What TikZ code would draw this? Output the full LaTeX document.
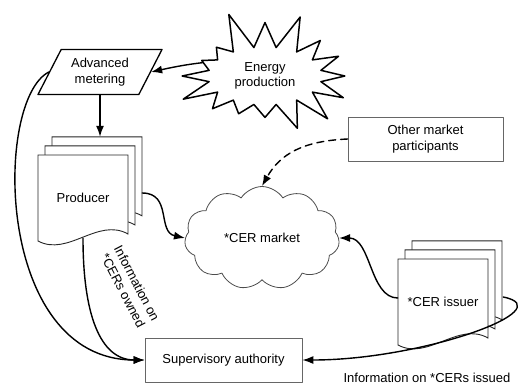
\documentclass[tikz,border=0pt]{standalone}
\usepackage{fontspec}
\setmainfont{Liberation Sans}
\usetikzlibrary{arrows.meta,shapes.geometric,shapes.symbols,backgrounds}

\tikzset{
  boxnode/.style={draw=black!60, line width=0.7pt, minimum width=155pt,
    minimum height=44pt, align=center},
  docnode/.style={minimum width=90pt, minimum height=86pt, inner sep=0pt},
  docline/.style={draw=black!85, line width=0.9pt, fill=white},
  arr/.style={line width=1.4pt, -{Latex[length=11pt,width=8pt]}},
}

% three stacked pages behind a document node
\newcommand{\docstack}[1]{%
  \begin{pgfonlayer}{background}
  \begin{scope}[shift={(#1.center)}]
    \foreach \o in {14,7,0}{
      \draw[docline] (-45+\o,-43-1.3*\o) -- (45+\o,-43-1.3*\o) -- (45+\o,36-1.3*\o)
        .. controls (15+\o,19-1.3*\o) and (-15+\o,59-1.3*\o) .. (-45+\o,43-1.3*\o) -- cycle;
    }
  \end{scope}
  \end{pgfonlayer}}

\begin{document}
\begin{tikzpicture}[x=1pt,y=-1pt,line cap=round,line join=round,
    font=\fontsize{13}{15.5}\selectfont]
  \useasboundingbox (0,0) rectangle (519,389);

  \node[trapezium, trapezium left angle=50, trapezium right angle=130,
    trapezium stretches body, draw, line width=1.3pt, minimum width=124pt,
    minimum height=45pt, inner sep=0pt, align=center] (am) at (100,72) {Advanced\\metering};
  \node[starburst, starburst points=16, starburst point height=40pt,
    random starburst=5, draw, line width=1.5pt, minimum width=194pt,
    minimum height=138pt, inner sep=0pt, align=center] (ep) at (265,76) {Energy\\production};
  \node[cloud, cloud puffs=11, cloud puff arc=115, draw=black!70, line width=0.8pt,
    minimum width=155pt, minimum height=103pt, aspect=1.5] (cm) at (262,238) {*CER market};
  \node[boxnode] (omp) at (425.5,139) {Other market\\participants};
  \node[boxnode, minimum width=157pt] (sa) at (223.5,360) {Supervisory authority};
  \node[docnode] (prod) at (83,198) {Producer};
  \node[docnode] (iss) at (443,302) {*CER issuer};
  \docstack{prod}
  \docstack{iss}

  % flows
  \draw[arr] (ep.168) .. controls +(-18,2) and +(18,-4) .. (am.east);
  \draw[arr] (am.south) -- ([yshift=18pt]am.south |- prod.north);
  \draw[arr] ([xshift=14pt,yshift=5pt]prod.east) .. controls +(30,0) and +(-28,-6) .. (cm.west);
  \draw[arr, dash pattern=on 7pt off 5pt] (omp.west) .. controls +(-45,2) and +(18,-32) .. (cm.north);
  \draw[arr] ([yshift=4pt]iss.west) .. controls +(-28,0) and +(32,0) .. (cm.east);
  \draw[arr] ([xshift=15pt,yshift=5pt]iss.east) .. controls +(60,12) and +(120,0) .. (sa.east);
  \draw[arr] ([yshift=3pt]prod.south) .. controls +(0,75) and +(-45,0) .. (sa.west);
  \draw[arr] (am.west) .. controls +(-55,28) and +(-150,0) .. (sa.west);

  \node[rotate=-62.5, align=center] (lowned) at (130,287) {Information on\\*CERs owned};
  \node (liss) at (427,378) {Information on *CERs issued};
\end{tikzpicture}
\end{document}
